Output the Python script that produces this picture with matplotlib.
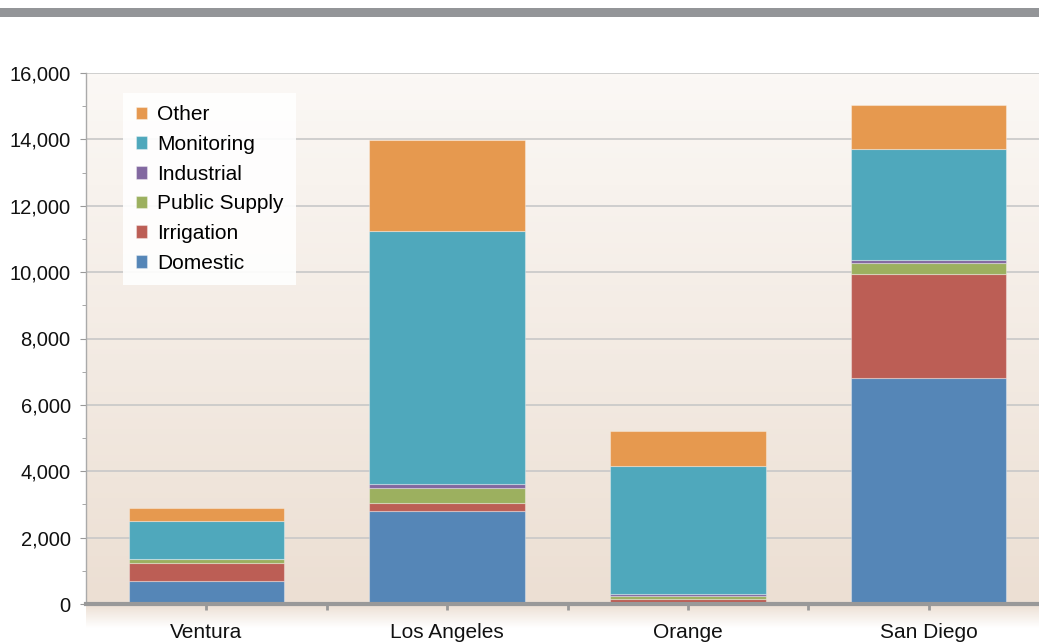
import numpy as np
import matplotlib
matplotlib.use("Agg")
import matplotlib.pyplot as plt
from matplotlib.colors import LinearSegmentedColormap
from matplotlib.ticker import MultipleLocator, FuncFormatter

plt.rcParams['font.family'] = ['Liberation Sans', 'DejaVu Sans']

# Data
counties = ["Ventura", "Los Angeles", "Orange", "San Diego"]
domestic = [690, 2800, 20, 6820]
irrigation = [555, 250, 130, 3110]
public_supply = [100, 460, 90, 360]
industrial = [10, 120, 50, 90]
monitoring = [1140, 7600, 3880, 3320]
other = [400, 2740, 1050, 1350]

series = [
    ("Domestic", domestic, "#5586b7"),
    ("Irrigation", irrigation, "#bc5e55"),
    ("Public Supply", public_supply, "#9cb05f"),
    ("Industrial", industrial, "#8268a0"),
    ("Monitoring", monitoring, "#4fa8bc"),
    ("Other", other, "#e6994f"),
]

fig = plt.figure(figsize=(10.39, 6.43), dpi=100)

# grey band at the top
band = fig.add_axes([0, 1 - 17 / 643, 1, 9 / 643])
band.set_facecolor("#939598")
band.set_xticks([]); band.set_yticks([])
for s in band.spines.values():
    s.set_visible(False)

# fade below the x axis
fade_cmap = LinearSegmentedColormap.from_list("fade", ["#ffffff", "#ecdfd3"])
fade = fig.add_axes([86 / 1039, 1 - 628 / 643, 1 - 86 / 1039, 24 / 643])
fade.imshow(np.linspace(0, 1, 50).reshape(-1, 1), aspect="auto", cmap=fade_cmap,
            extent=[0, 1, 0, 1], origin="lower")
fade.axis("off")

ax = fig.add_axes([86 / 1039, 1 - 604 / 643, 963 / 1039, 531 / 643])
ax.set_xlim(-0.5, 3.5)
ax.set_ylim(0, 16000)

# background gradient
bg_cmap = LinearSegmentedColormap.from_list("bg", ["#ecdfd3", "#fbf8f5"])
ax.imshow(np.linspace(0, 1, 100).reshape(-1, 1), aspect="auto", cmap=bg_cmap,
          extent=[-0.5, 3.5, 0, 16000], origin="lower", zorder=0)

ax.yaxis.set_major_locator(MultipleLocator(2000))
ax.yaxis.set_minor_locator(MultipleLocator(1000))
ax.grid(axis="y", color="#c8c8c8", linewidth=1.2, zorder=1)

x = np.arange(len(counties))
bottom = np.zeros(len(counties))
handles = []
for name, vals, col in series:
    b = ax.bar(x, vals, width=0.645, bottom=bottom, color=col,
               edgecolor=(1, 1, 1, 0.35), linewidth=0.8, zorder=3, label=name)
    handles.append(b)
    bottom += np.array(vals)

ax.yaxis.set_major_formatter(FuncFormatter(lambda v, p: f"{int(v):,}"))
ax.tick_params(axis="y", which="major", labelsize=14.5, length=4, color="#999999",
               pad=7, labelcolor="#111111")
ax.tick_params(axis="y", which="minor", length=3, color="#999999")

ax.set_xticks(x)
ax.set_xticklabels(counties, fontsize=15, color="#111111")
ax.set_xticks([0.5, 1.5, 2.5], minor=True)
ax.tick_params(axis="x", which="both", length=4, width=2, color="#999999", pad=10)

for side in ["top", "right"]:
    ax.spines[side].set_visible(False)
ax.spines["left"].set_color("#aaaaaa")
ax.spines["left"].set_linewidth(1)
ax.spines["bottom"].set_color("#999999")
ax.spines["bottom"].set_linewidth(3)
ax.spines["bottom"].set_zorder(4)

leg = ax.legend(handles[::-1], [s[0] for s in series][::-1],
                loc="upper left", bbox_to_anchor=(37 / 963, (604 - 93) / 531),
                fontsize=15, frameon=True, fancybox=False, framealpha=0.9,
                edgecolor="none", handlelength=0.55, handleheight=0.55,
                handletextpad=0.5, labelspacing=0.51, borderpad=0.6,
                borderaxespad=0)
leg.get_frame().set_facecolor("#ffffff")

fig.savefig("out.png", dpi=100)
